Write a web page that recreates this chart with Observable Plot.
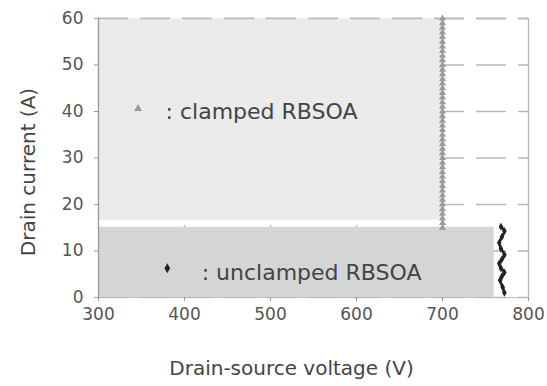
<!DOCTYPE html>
<html><head><meta charset="utf-8">
<script src="https://cdn.jsdelivr.net/npm/d3@7"></script>
<script src="https://cdn.jsdelivr.net/npm/@observablehq/plot@0.6"></script>
<style>body{margin:0;background:#fff} svg{font-family:"DejaVu Sans"}</style>
</head><body><div id="chart"></div>
<script>
// ---- data ----
const xTicks = [300, 400, 500, 600, 700, 800];
const yTicks = [0, 10, 20, 30, 40, 50, 60];
const xTitle = "Drain-source voltage (V)";
const yTitle = "Drain current (A)";

// shaded regions
const regionNames = ["clamped", "unclamped"];
const regionV1 = [300, 300];
const regionV2 = [700, 760];
const regionI1 = [16.6, 0];
const regionI2 = [60, 15.1];
const regionFill = ["#ebebeb", "#d5d5d5"];

// clamped RBSOA points (V = 700)
const clampedV = [700,700,700,700,700,700,700,700,700,700,700,700,700,700,700,700,700,700,700,700,700,700,700,700,700,700,700,700,700,700,700,700,700,700,700,700,700,700,700,700,700,700,700,700,700,700];
const clampedI = [15,16,17,18,19,20,21,22,23,24,25,26,27,28,29,30,31,32,33,34,35,36,37,38,39,40,41,42,43,44,45,46,47,48,49,50,51,52,53,54,55,56,57,58,59,60];

// unclamped RBSOA points
const unclampedV = [768, 772, 769, 766, 768, 772, 769, 766, 768, 772, 769, 767, 770, 772];
const unclampedI = [15.2, 14.3, 13.0, 11.8, 10.5, 9.2, 8.2, 7.3, 6.3, 5.4, 4.5, 3.7, 2.2, 1.0];

// in-plot legend
const legendLabels = [": clamped RBSOA", ": unclamped RBSOA"];
const legendSymbols = ["triangle", "diamond"];
const legendMarkV = [346, 380];
const legendMarkI = [40.6, 6.3];
const legendTextV = [378, 420];
const legendTextI = [39.8, 5.2];

// ---- tables ----
const regions = regionNames.map((n, i) => ({n, x1: regionV1[i], x2: regionV2[i], y1: regionI1[i], y2: regionI2[i], f: regionFill[i]}));
const clamped = clampedI.map((y, i) => ({x: clampedV[i], y}));
const unclamped = unclampedI.map((y, i) => ({x: unclampedV[i], y}));
const legend = legendLabels.map((t, i) => ({t, s: legendSymbols[i], mx: legendMarkV[i], my: legendMarkI[i], tx: legendTextV[i], ty: legendTextI[i]}));

const grid = "#b8b8b8";
const plot = Plot.plot({
  width: 547, height: 386,
  marginLeft: 98, marginRight: 19, marginTop: 18, marginBottom: 89,
  style: {fontFamily: "DejaVu Sans", fontSize: "16px", color: "#555", background: "#fff", overflow: "visible"},
  x: {domain: [300, 800]},
  y: {domain: [0, 60]},
  marks: [
    Plot.ruleY(yTicks, {x1: 300, x2: 800, stroke: grid, strokeWidth: 1.3, strokeDasharray: "30,12"}),
    Plot.ruleX(xTicks.slice(1, 5), {y1: 0, y2: 60, stroke: grid, strokeWidth: 1.3, strokeDasharray: "30,12"}),
    Plot.rect(regions, {x1: "x1", x2: "x2", y1: "y1", y2: "y2", fill: "f"}),
    Plot.ruleY([60], {x1: 300, x2: 800, stroke: grid, strokeWidth: 1.3, strokeDasharray: "30,12"}),
    Plot.ruleX([800], {y1: 0, y2: 60, stroke: grid, strokeWidth: 1.3}),
    Plot.dot(clamped, {x: "x", y: "y", symbol: "triangle", r: 2.6, fill: "#9a9a9a", stroke: "none"}),
    Plot.line(unclamped, {x: "x", y: "y", stroke: "#222", strokeWidth: 2.6, curve: "catmull-rom"}),
    Plot.dot(unclamped, {x: "x", y: "y", symbol: "diamond", r: 2.4, fill: "#222", stroke: "none"}),
    Plot.dot(legend, {x: "mx", y: "my", symbol: "s", r: 3, fill: (d, i) => i === 0 ? "#9a9a9a" : "#222", stroke: "none"}),
    Plot.text(legend, {x: "tx", y: "ty", text: "t", textAnchor: "start", fontSize: 22, fill: "#444", style: "letter-spacing:1.1px"}),
    Plot.ruleX([300], {y1: 0, y2: 60, stroke: "#999", strokeWidth: 1.3}),
    Plot.ruleY([0], {x1: 300, x2: 800, stroke: "#bbb", strokeWidth: 1.2}),
    Plot.axisX({ticks: xTicks, tickSize: 4, tickPadding: 6, label: null, stroke: "#999", fill: "#555", fontSize: 17}),
    Plot.axisY({ticks: yTicks, tickSize: 4, tickPadding: 11, label: null, stroke: "#999", fill: "#555", fontSize: 17}),
    Plot.text([xTitle], {frameAnchor: "bottom", dy: 71, dx: -22, fontSize: 20, fill: "#444", lineAnchor: "middle", textAnchor: "middle", style: "letter-spacing:0.7px"}),
    Plot.text([yTitle], {frameAnchor: "left", dx: -70, dy: 14, rotate: -90, fontSize: 20, fill: "#444", lineAnchor: "middle", textAnchor: "middle", style: "letter-spacing:0.5px"})
  ]
});
document.getElementById("chart").appendChild(plot);
</script>
</body></html>
